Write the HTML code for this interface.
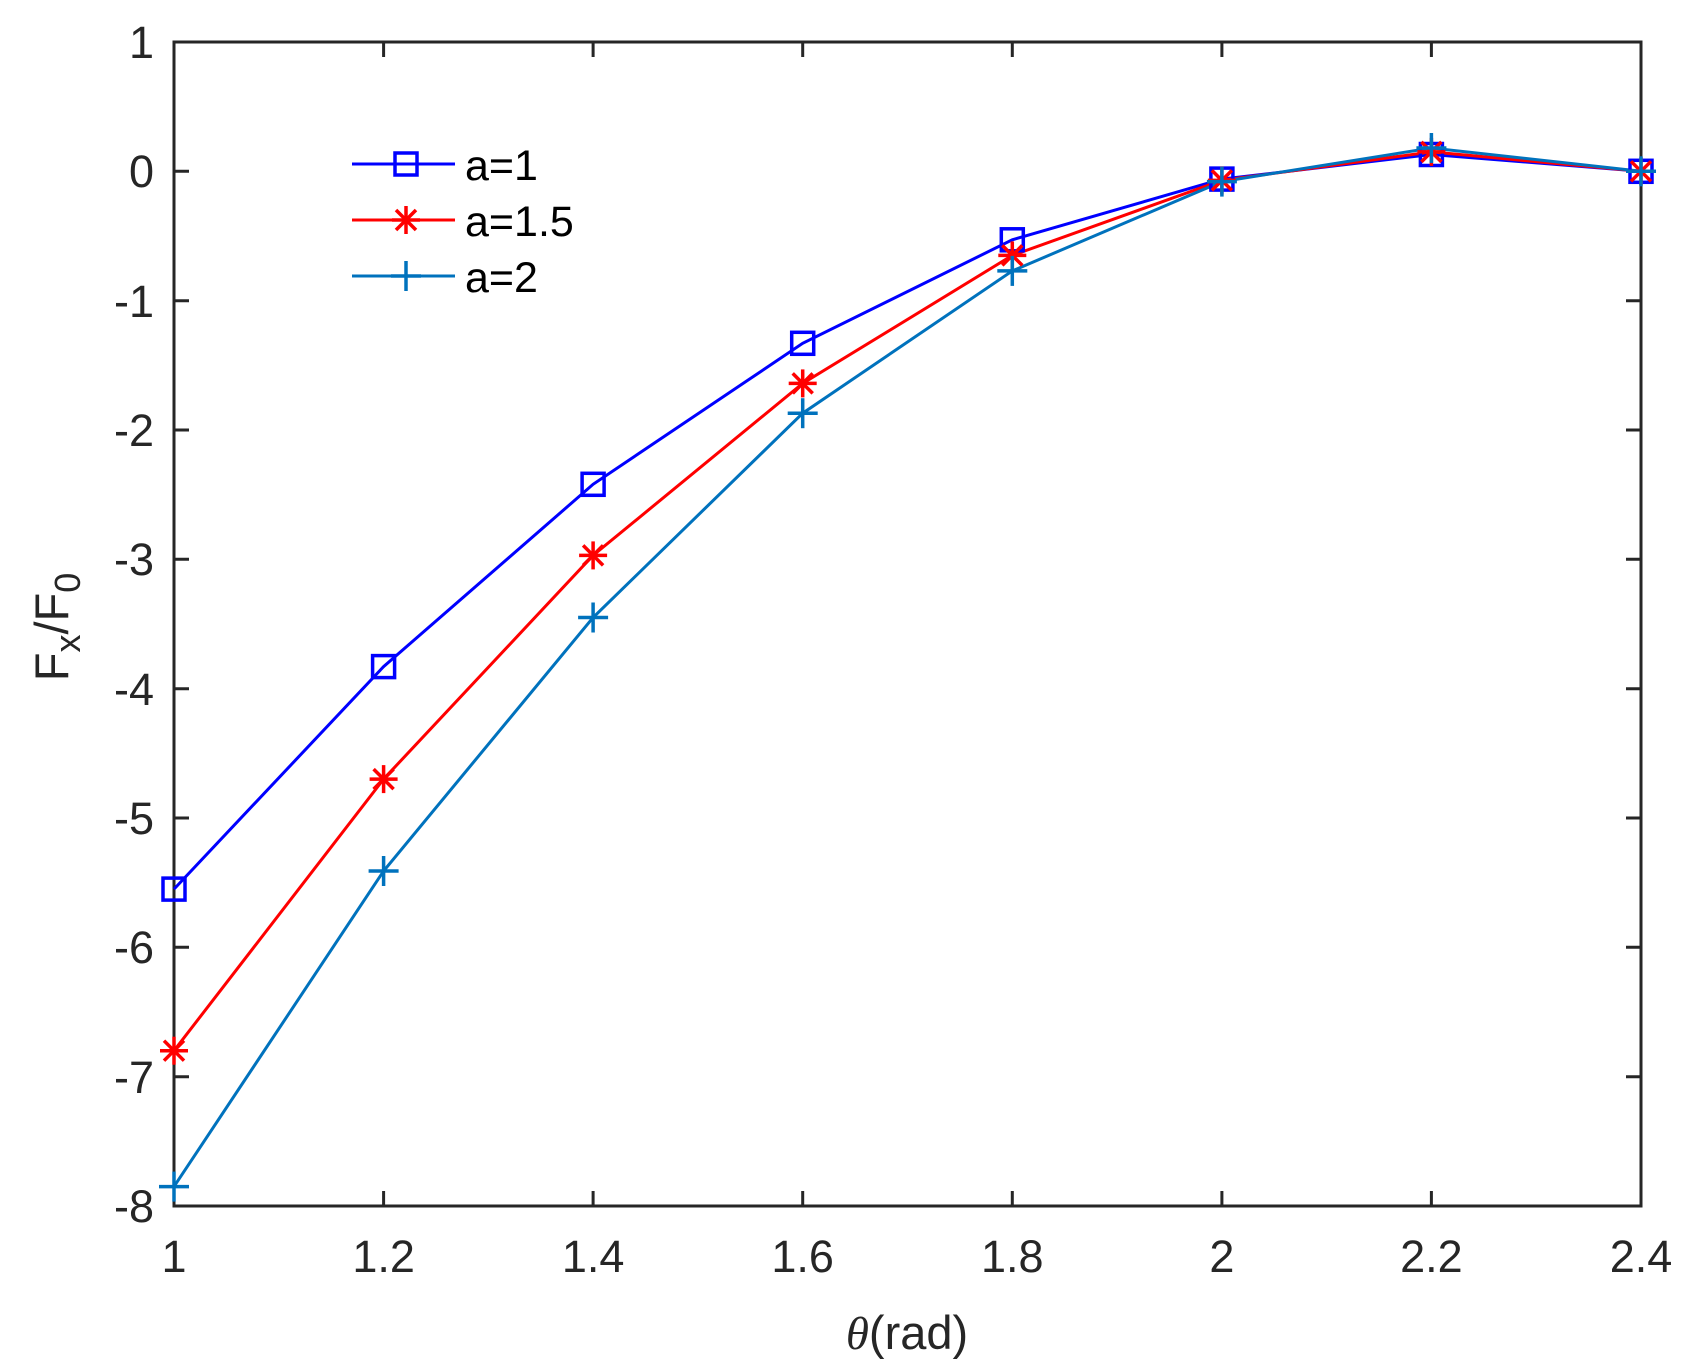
<!DOCTYPE html>
<html><head><meta charset="utf-8"><style>html,body{margin:0;padding:0;background:#fff}</style></head>
<body>
<svg width="1697" height="1364" viewBox="0 0 1697 1364" xmlns="http://www.w3.org/2000/svg" font-family="Liberation Sans, Arial, sans-serif">
<defs>
<rect id="sq" x="-11" y="-11" width="22" height="22" fill="none" stroke="#0000ff" stroke-width="3.5"/>
<g id="st" stroke="#ff0000" stroke-width="3.5"><line x1="-14" y1="0" x2="14" y2="0"/><line x1="0" y1="-14" x2="0" y2="14"/><line x1="-10" y1="-10" x2="10" y2="10"/><line x1="-10" y1="10" x2="10" y2="-10"/></g>
<g id="pl" stroke="#0072bd" stroke-width="3.5"><line x1="-15" y1="0" x2="15" y2="0"/><line x1="0" y1="-15" x2="0" y2="15"/></g>
</defs>
<rect width="1697" height="1364" fill="#fff"/>
<g stroke="#262626" stroke-width="3" fill="none">
<rect x="174" y="42" width="1467" height="1164"/>
<path d="M383.6 1206v-15M593.1 1206v-15M802.7 1206v-15M1012.3 1206v-15M1221.9 1206v-15M1431.4 1206v-15M383.6 42v15M593.1 42v15M802.7 42v15M1012.3 42v15M1221.9 42v15M1431.4 42v15"/>
<path d="M174 171.3h15M174 300.7h15M174 430h15M174 559.3h15M174 688.7h15M174 818h15M174 947.3h15M174 1076.7h15M1641 171.3h-15M1641 300.7h-15M1641 430h-15M1641 559.3h-15M1641 688.7h-15M1641 818h-15M1641 947.3h-15M1641 1076.7h-15"/>
</g>
<g font-size="45" fill="#262626" text-anchor="end">
<text x="154" y="58">1</text><text x="154" y="187">0</text><text x="154" y="317">-1</text><text x="154" y="446">-2</text><text x="154" y="575">-3</text><text x="154" y="705">-4</text><text x="154" y="834">-5</text><text x="154" y="963">-6</text><text x="154" y="1093">-7</text><text x="154" y="1222">-8</text>
</g>
<g font-size="45" fill="#262626" text-anchor="middle">
<text x="174" y="1272">1</text><text x="383.6" y="1272">1.2</text><text x="593.1" y="1272">1.4</text><text x="802.7" y="1272">1.6</text><text x="1012.3" y="1272">1.8</text><text x="1221.9" y="1272">2</text><text x="1431.4" y="1272">2.2</text><text x="1641" y="1272">2.4</text>
<text x="907" y="1349" font-size="47"><tspan font-family="Liberation Serif, serif" font-style="italic">θ</tspan>(rad)</text>
</g>
<text transform="translate(68,627) rotate(-90)" text-anchor="middle" font-size="47" fill="#262626">F<tspan font-size="36" dy="12">x</tspan><tspan dy="-12">/F</tspan><tspan font-size="36" dy="12">0</tspan></text>
<g fill="none" stroke-width="3">
<polyline stroke="#0000ff" points="174,889.1 383.6,666.6 593.1,484.3 802.7,343.3 1012.3,239.8 1221.9,179.1 1431.4,154.5 1641,171.3"/>
<polyline stroke="#ff0000" points="174,1050.7 383.6,779.1 593.1,555.4 802.7,383.4 1012.3,255.4 1221.9,180.4 1431.4,151.9 1641,171.3"/>
<polyline stroke="#0072bd" points="174,1186.6 383.6,871 593.1,617.5 802.7,413.2 1012.3,270.9 1221.9,181.6 1431.4,148 1641,171.3"/>
</g>
<use href="#sq" x="174" y="889.1"/><use href="#sq" x="383.6" y="666.6"/><use href="#sq" x="593.1" y="484.3"/><use href="#sq" x="802.7" y="343.3"/><use href="#sq" x="1012.3" y="239.8"/><use href="#sq" x="1221.9" y="179.1"/><use href="#sq" x="1431.4" y="154.5"/><use href="#sq" x="1641" y="171.3"/>
<use href="#st" x="174" y="1050.7"/><use href="#st" x="383.6" y="779.1"/><use href="#st" x="593.1" y="555.4"/><use href="#st" x="802.7" y="383.4"/><use href="#st" x="1012.3" y="255.4"/><use href="#st" x="1221.9" y="180.4"/><use href="#st" x="1431.4" y="151.9"/><use href="#st" x="1641" y="171.3"/>
<use href="#pl" x="174" y="1186.6"/><use href="#pl" x="383.6" y="871"/><use href="#pl" x="593.1" y="617.5"/><use href="#pl" x="802.7" y="413.2"/><use href="#pl" x="1012.3" y="270.9"/><use href="#pl" x="1221.9" y="181.6"/><use href="#pl" x="1431.4" y="148"/><use href="#pl" x="1641" y="171.3"/>
<g stroke-width="3">
<line x1="352" y1="164" x2="455" y2="164" stroke="#0000ff"/>
<line x1="352" y1="220" x2="455" y2="220" stroke="#ff0000"/>
<line x1="352" y1="276" x2="455" y2="276" stroke="#0072bd"/>
</g>
<use href="#sq" x="406" y="164"/><use href="#st" x="406" y="220"/><use href="#pl" x="406" y="276"/>
<g font-size="43" fill="#000">
<text x="465" y="180">a=1</text><text x="465" y="236">a=1.5</text><text x="465" y="292">a=2</text>
</g>
</svg>
</body></html>
